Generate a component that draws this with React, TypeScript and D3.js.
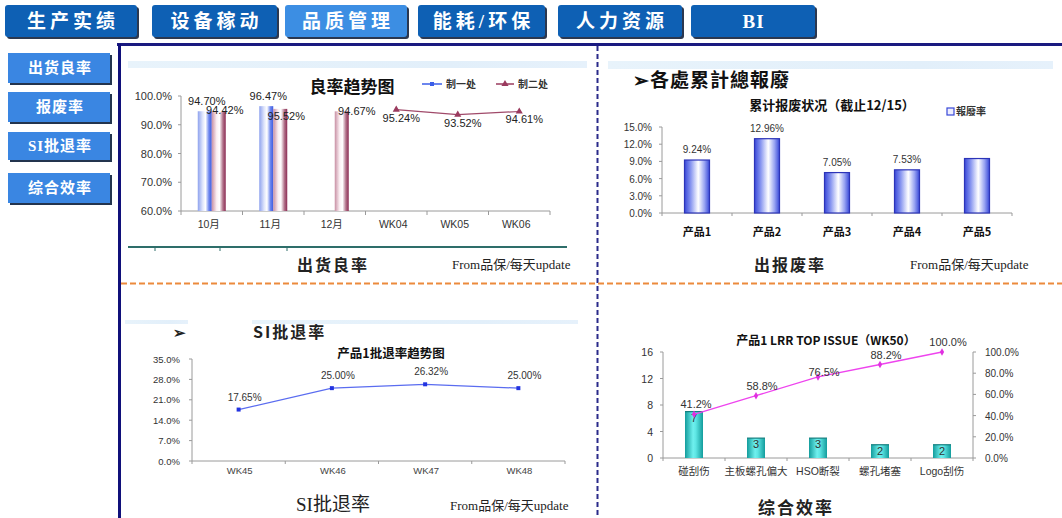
import React from 'react';
import * as d3 from 'd3';

// ---------- data ----------
const navTabs = ["生产实绩", "设备稼动", "品质管理", "能耗/环保", "人力资源", "BI"];
const activeTab = "品质管理";
const sideButtons = ["出货良率", "报废率", "SI批退率", "综合效率"];

// Chart 1: 良率趋势图
const yieldCategories = ["10月", "11月", "12月", "WK04", "WK05", "WK06"];
const yieldSeriesNames = ["制一处", "制二处"];
const yieldSeries1: (number | null)[] = [94.70, 96.47, null, null, null, null];
const yieldSeries2: (number | null)[] = [94.42, 95.52, 94.67, 95.24, 93.52, 94.61];
const yieldBarCategories = ["10月", "11月", "12月"];
const yieldTicks = [60, 70, 80, 90, 100];

// Chart 2: 累计报废状况
const scrapCategories = ["产品1", "产品2", "产品3", "产品4", "产品5"];
const scrapValues = [9.24, 12.96, 7.05, 7.53, 9.5];
const scrapLabels = ["9.24%", "12.96%", "7.05%", "7.53%", ""];
const scrapTicks = [0, 3, 6, 9, 12, 15];

// Chart 3: 产品1批退率趋势图
const siCategories = ["WK45", "WK46", "WK47", "WK48"];
const siValues = [17.65, 25.0, 26.32, 25.0];
const siTicks = [0, 7, 14, 21, 28, 35];

// Chart 4: 产品1 LRR TOP ISSUE
const lrrCategories = ["碰刮伤", "主板螺孔偏大", "HSO断裂", "螺孔堵塞", "Logo刮伤"];
const lrrCounts = [7, 3, 3, 2, 2];
const lrrCumulative = [41.2, 58.8, 76.5, 88.2, 100.0];
const lrrLeftTicks = [0, 4, 8, 12, 16];
const lrrRightTicks = [0, 20, 40, 60, 80, 100];

// ---------- layout ----------
const tabBoxes = [[5, 137], [152, 277], [285, 407], [418, 545], [558, 682], [691, 815]];
const sideBoxes = [[53, 83], [92, 122], [132, 160], [173, 203]];

const SANS = "'Liberation Sans', Arial, 'Noto Sans CJK SC', sans-serif";
const CJK = "'Noto Sans CJK SC', 'Liberation Sans', sans-serif";
const SERIF = "'Liberation Serif', 'Noto Sans CJK SC', serif";
const AXIS = "#9a9a9a";

export default function App() {
  // chart 1 scales
  const x1 = d3.scaleBand().domain(yieldCategories).range([181, 550]);
  const y1 = d3.scaleLinear().domain([60, 100]).range([211, 96]);
  const bw1 = 14;
  const line1 = d3.line<[number, number]>().x(d => d[0]).y(d => d[1]);
  const wkPts: [number, number][] = yieldCategories
    .map((c, i) => [c, yieldSeries2[i]] as [string, number | null])
    .filter(([c, v]) => !yieldBarCategories.includes(c) && v != null)
    .map(([c, v]) => [(x1(c) as number) + x1.bandwidth() / 2, y1(v as number)]);

  // chart 2
  const x2 = d3.scaleBand().domain(scrapCategories).range([662, 1012]);
  const y2 = d3.scaleLinear().domain([0, 15]).range([213, 127]);
  const bw2 = 25;

  // chart 3
  const x3 = d3.scaleBand().domain(siCategories).range([192, 565]);
  const y3 = d3.scaleLinear().domain([0, 35]).range([461, 359]);
  const siPts: [number, number][] = siValues.map((v, i) => [(x3(siCategories[i]) as number) + x3.bandwidth() / 2, y3(v)]);

  // chart 4
  const x4 = d3.scaleBand().domain(lrrCategories).range([663, 973]);
  const y4 = d3.scaleLinear().domain([0, 16]).range([458, 352]);
  const y4r = d3.scaleLinear().domain([0, 100]).range([458, 352]);
  const bw4 = 18;
  const lrrPts: [number, number][] = lrrCumulative.map((v, i) => [(x4(lrrCategories[i]) as number) + x4.bandwidth() / 2, y4r(v)]);

  const tri = d3.symbol(d3.symbolTriangle, 22)() as string;
  const sq = d3.symbol(d3.symbolSquare, 16)() as string;
  const dia = d3.symbol(d3.symbolDiamond, 16)() as string;

  const footer = (x: number, y: number) => (
    <text x={x} y={y} fontFamily={SERIF} fontSize={13} fill="#222">From品保/每天update</text>
  );

  return (
    <svg width={1062} height={518} style={{ position: 'absolute', left: 0, top: 0, background: '#fff' }}
      xmlns="http://www.w3.org/2000/svg">
      <defs>
        <linearGradient id="gBlue1" x1="0" x2="1" y1="0" y2="0">
          <stop offset="0" stopColor="#8ea2ee" />
          <stop offset="0.35" stopColor="#dfe5fb" />
          <stop offset="0.55" stopColor="#ffffff" />
          <stop offset="0.8" stopColor="#6d86ee" />
          <stop offset="1" stopColor="#3c5ae0" />
        </linearGradient>
        <linearGradient id="gMaroon1" x1="0" x2="1" y1="0" y2="0">
          <stop offset="0" stopColor="#c890a4" />
          <stop offset="0.35" stopColor="#fbeff3" />
          <stop offset="0.55" stopColor="#ffffff" />
          <stop offset="0.8" stopColor="#b07088" />
          <stop offset="1" stopColor="#8c2c54" />
        </linearGradient>
        <linearGradient id="gScrap" x1="0" x2="1" y1="0" y2="0">
          <stop offset="0" stopColor="#3848d8" />
          <stop offset="0.25" stopColor="#8896f0" />
          <stop offset="0.55" stopColor="#ffffff" />
          <stop offset="0.8" stopColor="#98a4f2" />
          <stop offset="1" stopColor="#3848d8" />
        </linearGradient>
        <linearGradient id="gTeal" x1="0" x2="1" y1="0" y2="0">
          <stop offset="0" stopColor="#139c9c" />
          <stop offset="0.45" stopColor="#6ff0ee" />
          <stop offset="0.6" stopColor="#5ee6e4" />
          <stop offset="1" stopColor="#139c9c" />
        </linearGradient>
        <linearGradient id="gBand" x1="0" x2="1" y1="0" y2="0">
          <stop offset="0" stopColor="#e8f3fb" />
          <stop offset="0.7" stopColor="#e2effa" />
          <stop offset="1" stopColor="#e6f1fb" />
        </linearGradient>
      </defs>

      {/* nav tabs */}
      {navTabs.map((t, i) => {
        const [a, b] = tabBoxes[i];
        const active = t === activeTab;
        const ls = t.length > 2 ? 4 : 1;
        return (
          <g key={t}>
            <rect x={a + 2} y={7} width={b - a} height={32} rx={3} fill="#2b3850" />
            <rect x={a} y={5} width={b - a} height={32} rx={3} fill={active ? '#3c8ee3' : '#0e60b4'} />
            <text x={(a + b) / 2 + ls / 2} y={28} textAnchor="middle" fontFamily={SERIF} fontWeight="bold"
              fontSize={19} letterSpacing={ls} fill="#fff">{t}</text>
          </g>
        );
      })}

      {/* side buttons */}
      {sideButtons.map((t, i) => {
        const [a, b] = sideBoxes[i];
        return (
          <g key={t}>
            <rect x={10} y={a + 2} width={102} height={b - a} fill="#23344e" />
            <rect x={8} y={a} width={102} height={b - a} fill="#3a86e2" />
            <text x={60} y={(a + b) / 2 + 5} textAnchor="middle" fontFamily={SERIF} fontWeight="bold"
              fontSize={15} letterSpacing={1} fill="#fff">{t}</text>
          </g>
        );
      })}

      {/* frame */}
      <line x1={117} y1={44.5} x2={1062} y2={44.5} stroke="#1a1a80" strokeWidth={3} />
      <line x1={119.5} y1={44} x2={119.5} y2={518} stroke="#10107a" strokeWidth={3} />
      <line x1={597.5} y1={46} x2={597.5} y2={518} stroke="#2a2a8a" strokeWidth={2} strokeDasharray="5,3" />
      <line x1={121} y1={283.5} x2={1062} y2={283.5} stroke="#ec8a3c" strokeWidth={2} strokeDasharray="6,3" />

      {/* light header bands */}
      <rect x={128} y={61} width={459} height={7} fill="url(#gBand)" />
      <rect x={608} y={61} width={445} height={8} fill="url(#gBand)" />
      <rect x={125} y={320} width={63} height={4} fill="url(#gBand)" />
      <rect x={252} y={320} width={326} height={4} fill="url(#gBand)" />

      {/* ===== Chart 1 ===== */}
      <text x={352} y={93} textAnchor="middle" fontFamily={CJK} fontWeight="bold" fontSize={17} fill="#111">良率趋势图</text>
      <line x1={422} y1={84} x2={442} y2={84} stroke="#3b5ee8" strokeWidth={1.5} />
      <path d={sq} transform="translate(432,84)" fill="#3b5ee8" />
      <text x={446} y={88} fontFamily={CJK} fontSize={10} fontWeight="bold" fill="#333">{yieldSeriesNames[0]}</text>
      <line x1={496} y1={84} x2={514} y2={84} stroke="#9a3a5e" strokeWidth={1.5} />
      <path d={tri} transform="translate(505,84)" fill="#9a3a5e" />
      <text x={518} y={88} fontFamily={CJK} fontSize={10} fontWeight="bold" fill="#333">{yieldSeriesNames[1]}</text>

      <line x1={181} y1={96} x2={181} y2={211} stroke={AXIS} />
      <line x1={181} y1={211} x2={550} y2={211} stroke={AXIS} />
      {yieldTicks.map(t => (
        <g key={t}>
          <line x1={178} y1={y1(t)} x2={181} y2={y1(t)} stroke={AXIS} />
          <text x={172} y={y1(t) + 4} textAnchor="end" fontFamily={SANS} fontSize={11} fill="#333">{t.toFixed(1)}%</text>
        </g>
      ))}
      {d3.range(yieldCategories.length + 1).map(i => (
        <line key={i} x1={181 + i * x1.step()} y1={211} x2={181 + i * x1.step()} y2={215} stroke={AXIS} />
      ))}
      {yieldCategories.map(c => (
        <text key={c} x={(x1(c) as number) + x1.bandwidth() / 2 - 3} y={228} textAnchor="middle" fontFamily={SANS} fontSize={10.5} fill="#333">{c}</text>
      ))}
      {yieldCategories.map((c, i) => {
        if (!yieldBarCategories.includes(c)) return null;
        const cx = (x1(c) as number) + x1.bandwidth() / 2;
        const v1 = yieldSeries1[i], v2 = yieldSeries2[i];
        return (
          <g key={c}>
            {v1 != null && <rect x={cx - bw1} y={y1(v1)} width={bw1} height={y1(60) - y1(v1)} fill="url(#gBlue1)" />}
            {v2 != null && <rect x={cx} y={y1(v2)} width={bw1} height={y1(60) - y1(v2)} fill="url(#gMaroon1)" />}
          </g>
        );
      })}
      <path d={line1(wkPts) as string} fill="none" stroke="#a04a6a" strokeWidth={1.2} />
      {wkPts.map((p, i) => <path key={i} d={tri} transform={`translate(${p[0]},${p[1]})`} fill="#9a3a5e" />)}
      {/* data labels chart 1 */}
      {yieldCategories.map((c, i) => {
        const cx = (x1(c) as number) + x1.bandwidth() / 2;
        const v1 = yieldSeries1[i], v2 = yieldSeries2[i];
        const isBar = yieldBarCategories.includes(c);
        return (
          <g key={c} fontFamily={SANS} fontSize={11} fill="#222">
            {v1 != null && <text x={cx - 5} y={y1(v1) - 6} textAnchor="middle">{v1.toFixed(2)}%</text>}
            {v2 != null && isBar && i < 2 && <text x={cx + 13} y={y1(v2) + (i === 0 ? 2 : 11)} textAnchor="middle">{v2.toFixed(2)}%</text>}
            {v2 != null && isBar && i >= 2 && <text x={cx + 22} y={y1(v2) + 4} textAnchor="middle">{v2.toFixed(2)}%</text>}
            {v2 != null && !isBar && <text x={cx + 5} y={y1(v2) + 12} textAnchor="middle">{v2.toFixed(2)}%</text>}
          </g>
        );
      })}
      <line x1={128} y1={247} x2={567} y2={247} stroke="#2e6e6a" strokeWidth={2} />
      {[155, 220, 287].map(x => <line key={x} x1={x} y1={247} x2={x} y2={251} stroke="#2e6e6a" strokeWidth={1} />)}
      <text x={333} y={271} textAnchor="middle" fontFamily={CJK} fontWeight="bold" fontSize={16} letterSpacing={2} fill="#222">出货良率</text>
      {footer(452, 269)}

      {/* ===== Chart 2 ===== */}
      <text x={633} y={87} fontFamily={CJK} fontWeight="bold" fontSize={19} letterSpacing={1} fill="#111">➢各處累計總報廢</text>
      <text x={832} y={110} textAnchor="middle" fontFamily={CJK} fontWeight="bold" fontSize={13} fill="#111">累计报废状况（截止12/15）</text>
      <rect x={947} y={108} width={7} height={7} fill="#eef" stroke="#3848d8" strokeWidth={1.2} />
      <text x={956} y={115} fontFamily={CJK} fontWeight="bold" fontSize={10} fill="#333">報廢率</text>
      <line x1={662} y1={127} x2={662} y2={213} stroke={AXIS} />
      <line x1={662} y1={213} x2={1012} y2={213} stroke={AXIS} />
      {scrapTicks.map(t => (
        <g key={t}>
          <line x1={659} y1={y2(t)} x2={662} y2={y2(t)} stroke={AXIS} />
          <text x={652} y={y2(t) + 4} textAnchor="end" fontFamily={SANS} fontSize={10} fill="#333">{t.toFixed(1)}%</text>
        </g>
      ))}
      {d3.range(scrapCategories.length + 1).map(i => (
        <line key={i} x1={662 + i * x2.step()} y1={213} x2={662 + i * x2.step()} y2={216} stroke={AXIS} />
      ))}
      {scrapCategories.map((c, i) => {
        const cx = (x2(c) as number) + x2.bandwidth() / 2;
        const v = scrapValues[i];
        return (
          <g key={c}>
            <rect x={cx - bw2 / 2} y={y2(v)} width={bw2} height={y2(0) - y2(v)} fill="url(#gScrap)" stroke="#2c34b8" strokeWidth={1.2} />
            {scrapLabels[i] && <text x={cx} y={y2(v) - 7} textAnchor="middle" fontFamily={SANS} fontSize={10} fill="#333">{scrapLabels[i]}</text>}
            <text x={cx} y={236} textAnchor="middle" fontFamily={CJK} fontWeight="bold" fontSize={11} fill="#111">{c}</text>
          </g>
        );
      })}
      <text x={790} y={271} textAnchor="middle" fontFamily={CJK} fontWeight="bold" fontSize={16} letterSpacing={2} fill="#222">出报废率</text>
      {footer(910, 269)}

      {/* ===== Chart 3 ===== */}
      <text x={173} y={338} fontFamily={CJK} fontWeight="bold" fontSize={15} fill="#222">➢</text>
      <text x={253} y={338} fontFamily={CJK} fontWeight="bold" fontSize={16} letterSpacing={2} fill="#222">SI批退率</text>
      <text x={391} y={358} textAnchor="middle" fontFamily={CJK} fontWeight="bold" fontSize={12.5} fill="#111">产品1批退率趋势图</text>
      <line x1={192} y1={359} x2={192} y2={461} stroke={AXIS} />
      <line x1={192} y1={461} x2={565} y2={461} stroke={AXIS} />
      {siTicks.map(t => (
        <g key={t}>
          <line x1={189} y1={y3(t)} x2={192} y2={y3(t)} stroke={AXIS} />
          <text x={180} y={y3(t) + 3.5} textAnchor="end" fontFamily={SANS} fontSize={9.5} fill="#333">{t.toFixed(1)}%</text>
        </g>
      ))}
      {d3.range(siCategories.length + 1).map(i => (
        <line key={i} x1={192 + i * x3.step()} y1={461} x2={192 + i * x3.step()} y2={464} stroke={AXIS} />
      ))}
      {siCategories.map(c => (
        <text key={c} x={(x3(c) as number) + x3.bandwidth() / 2 + 1} y={474} textAnchor="middle" fontFamily={SANS} fontSize={9.5} fill="#444">{c}</text>
      ))}
      <path d={line1(siPts) as string} fill="none" stroke="#5a6cf0" strokeWidth={1.2} />
      {siPts.map((p, i) => (
        <g key={i}>
          <path d={sq} transform={`translate(${p[0]},${p[1]})`} fill="#2233e0" />
          <text x={p[0] + 6} y={p[1] - 9} textAnchor="middle" fontFamily={SANS} fontSize={10} fill="#333">{siValues[i].toFixed(2)}%</text>
        </g>
      ))}
      <text x={296} y={511} fontFamily={SERIF} fontSize={19} fill="#222">SI批退率</text>
      {footer(450, 510)}

      {/* ===== Chart 4 ===== */}
      <text x={826} y={345} textAnchor="middle" fontFamily={CJK} fontWeight="bold" fontSize={12} fill="#111">产品1 LRR TOP ISSUE（WK50）</text>
      <line x1={663} y1={352} x2={663} y2={458} stroke={AXIS} />
      <line x1={663} y1={458} x2={973} y2={458} stroke={AXIS} />
      <line x1={973} y1={352} x2={973} y2={458} stroke={AXIS} />
      {lrrLeftTicks.map(t => (
        <g key={t}>
          <line x1={660} y1={y4(t)} x2={663} y2={y4(t)} stroke={AXIS} />
          <text x={653} y={y4(t) + 4} textAnchor="end" fontFamily={SANS} fontSize={10.5} fill="#333">{t}</text>
        </g>
      ))}
      {lrrRightTicks.map(t => (
        <g key={t}>
          <line x1={973} y1={y4r(t)} x2={976} y2={y4r(t)} stroke={AXIS} />
          <text x={985} y={y4r(t) + 4} fontFamily={SANS} fontSize={10} fill="#333">{t.toFixed(1)}%</text>
        </g>
      ))}
      {d3.range(lrrCategories.length + 1).map(i => (
        <line key={i} x1={663 + i * x4.step()} y1={458} x2={663 + i * x4.step()} y2={461} stroke={AXIS} />
      ))}
      {lrrCategories.map((c, i) => {
        const cx = (x4(c) as number) + x4.bandwidth() / 2;
        const v = lrrCounts[i];
        return (
          <g key={c}>
            <rect x={cx - bw4 / 2} y={y4(v)} width={bw4} height={y4(0) - y4(v)} fill="url(#gTeal)" />
            <line x1={cx - bw4 / 2} y1={y4(v)} x2={cx + bw4 / 2} y2={y4(v)} stroke="#137f7f" strokeWidth={1.2} />
            <text x={cx} y={y4(v) + 10} textAnchor="middle" fontFamily={SANS} fontSize={11} fill="#333">{v}</text>
            <text x={cx} y={475} textAnchor="middle" fontFamily={SANS} fontSize={10.5} fill="#333">{c}</text>
          </g>
        );
      })}
      <path d={line1(lrrPts) as string} fill="none" stroke="#ee44ee" strokeWidth={1.3} />
      {lrrPts.map((p, i) => (
        <g key={i}>
          <path d={dia} transform={`translate(${p[0]},${p[1]})`} fill="#e030e0" />
          <text x={p[0] + (i === 0 ? 2 : 6)} y={p[1] - 6 + (i === 2 ? 5 : 0)} textAnchor="middle" fontFamily={SANS} fontSize={11} fill="#333">{lrrCumulative[i].toFixed(1)}%</text>
        </g>
      ))}
      <text x={796} y={514} textAnchor="middle" fontFamily={CJK} fontWeight="bold" fontSize={17} letterSpacing={2} fill="#222">综合效率</text>
    </svg>
  );
}
